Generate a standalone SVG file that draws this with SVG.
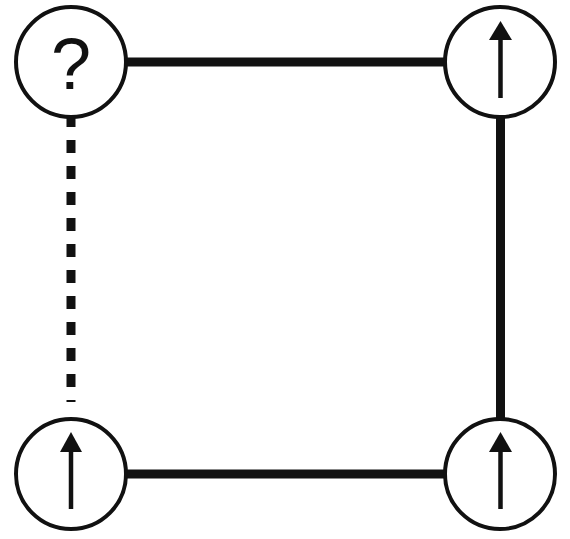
<svg xmlns="http://www.w3.org/2000/svg" width="570" height="539" viewBox="0 0 570 539">
<style>
.node{fill:#fff;stroke:#111;stroke-width:4}
.edge{stroke:#111;stroke-width:9;fill:none}
.shaft{stroke:#111;stroke-width:4.5}
.head{fill:#111}
.q{font-family:"Liberation Sans",Arial,sans-serif;font-size:72px;fill:#111;text-anchor:middle}
</style>
<g id="connectors">
<line class="edge" x1="125" y1="62" x2="446" y2="62"/>
<line class="edge" x1="125" y1="474" x2="446" y2="474"/>
<line class="edge" x1="500.5" y1="116" x2="500.5" y2="420"/>
<line class="edge" x1="71" y1="118" x2="71" y2="402" stroke-dasharray="13 13" stroke-dashoffset="4"/>
</g>
<g id="node-tl">
<circle class="node" cx="71" cy="62" r="55"/>
<text class="q" x="71" y="89">?</text>
</g>
<g id="node-tr">
<circle class="node" cx="500" cy="62" r="55"/>
<line class="shaft" x1="500.5" y1="98" x2="500.5" y2="36"/>
<polygon class="head" points="500.5,21 489,40 512,40"/>
</g>
<g id="node-bl">
<circle class="node" cx="71" cy="474" r="55"/>
<line class="shaft" x1="71" y1="509" x2="71" y2="448"/>
<polygon class="head" points="71,432 60,452 82,452"/>
</g>
<g id="node-br">
<circle class="node" cx="500" cy="474" r="55"/>
<line class="shaft" x1="500.5" y1="509" x2="500.5" y2="448"/>
<polygon class="head" points="500.5,432 489,452 512,452"/>
</g>
</svg>
